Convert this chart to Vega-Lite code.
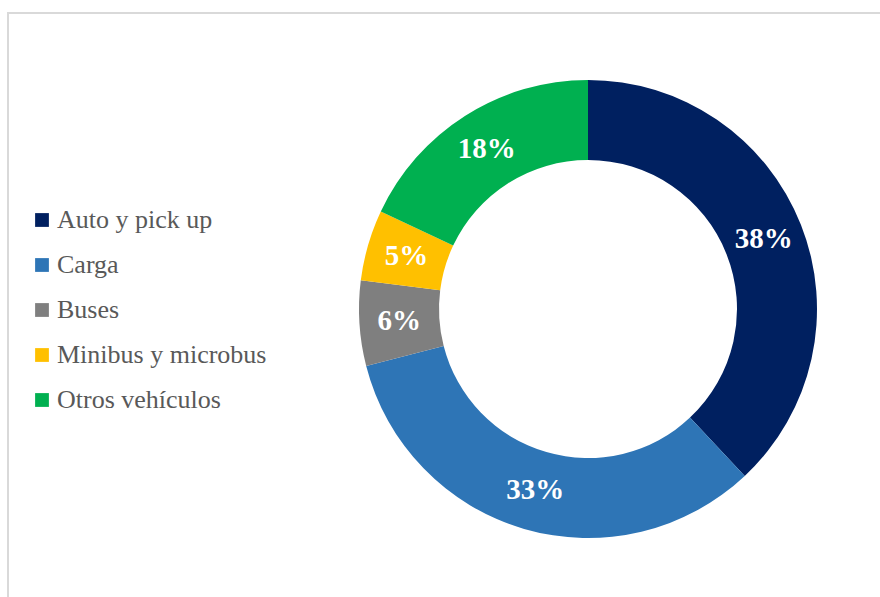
{
  "$schema": "https://vega.github.io/schema/vega-lite/v6.json",
  "width": 872,
  "height": 584,
  "autosize": {"type": "none"},
  "padding": {"left": 8, "top": 13, "right": 0, "bottom": 0},
  "background": "white",
  "view": {"stroke": "#D9D9D9", "strokeWidth": 2, "strokeDash": [872, 1456, 584]},
  "data": {
    "values": [
      {"tipo": "Auto y pick up", "participacion": 0.38, "orden": 1},
      {"tipo": "Carga", "participacion": 0.33, "orden": 2},
      {"tipo": "Buses", "participacion": 0.06, "orden": 3},
      {"tipo": "Minibus y microbus", "participacion": 0.05, "orden": 4},
      {"tipo": "Otros vehículos", "participacion": 0.18, "orden": 5}
    ]
  },
  "encoding": {
    "theta": {"field": "participacion", "type": "quantitative", "stack": true},
    "order": {"field": "orden", "type": "quantitative"}
  },
  "layer": [
    {
      "mark": {"type": "arc", "innerRadius": 149, "outerRadius": 229, "x": 580, "y": 296},
      "encoding": {
        "color": {
          "field": "tipo",
          "type": "nominal",
          "sort": ["Auto y pick up", "Carga", "Buses", "Minibus y microbus", "Otros vehículos"],
          "scale": {
            "domain": ["Auto y pick up", "Carga", "Buses", "Minibus y microbus", "Otros vehículos"],
            "range": ["#002060", "#2E75B6", "#7F7F7F", "#FFC000", "#00B050"]
          },
          "legend": {
            "orient": "none",
            "legendX": 21,
            "legendY": 194,
            "title": null,
            "symbolType": "square",
            "symbolSize": 190,
            "symbolStrokeWidth": 0,
            "labelFont": "Liberation Serif",
            "labelFontSize": 26,
            "labelColor": "#595959",
            "labelOffset": 2,
            "rowPadding": 19,
            "labelLimit": 400
          }
        }
      }
    },
    {
      "mark": {
        "type": "text",
        "radius": 189,
        "x": 580,
        "y": 296,
        "font": "Liberation Serif",
        "fontWeight": "bold",
        "fontSize": 29,
        "align": "center",
        "baseline": "middle",
        "color": "white"
      },
      "encoding": {
        "text": {"field": "participacion", "type": "quantitative", "format": ".0%"}
      }
    }
  ]
}
